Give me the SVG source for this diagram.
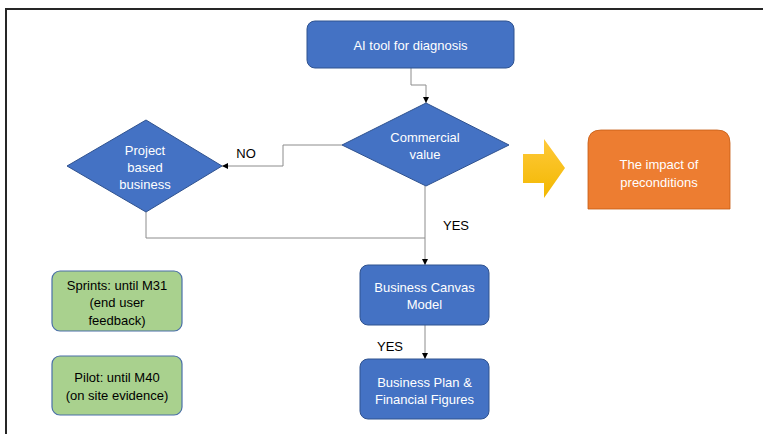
<svg xmlns="http://www.w3.org/2000/svg" width="763" height="434" viewBox="0 0 763 434">
  <defs>
    <style>
      .blue { fill: #4472C4; stroke: #2F528F; stroke-width: 1; }
      .green { fill: #A9D18E; stroke: #4A6FA8; stroke-width: 1.2; }
      .wt { fill: #FFFFFF; font-family: "Liberation Sans", Arial, sans-serif; font-size: 13px; text-anchor: middle; }
      .bt { fill: #000000; font-family: "Liberation Sans", Arial, sans-serif; font-size: 13px; text-anchor: middle; }
      .conn { fill: none; stroke: #8C8C8C; stroke-width: 1; }
    </style>
    <marker id="arrow" viewBox="0 0 6 6" refX="6" refY="3" markerWidth="6" markerHeight="6" orient="auto" markerUnits="userSpaceOnUse">
      <path d="M0,0 L6,3 L0,6 Z" fill="#000000"/>
    </marker>
    <linearGradient id="yellowGrad" x1="0" y1="0" x2="0" y2="1">
      <stop offset="0" stop-color="#FFC93A"/>
      <stop offset="1" stop-color="#F2B800"/>
    </linearGradient>
  </defs>

  <rect x="0" y="0" width="763" height="434" fill="#FFFFFF"/>

  <!-- outer frame -->
  <path d="M6,434 L6,9 L763,9" fill="none" stroke="#262626" stroke-width="2"/>

  <!-- connectors -->
  <g id="connectors">
    <path class="conn" d="M411,68 L411,85 L426,85 L426,103" marker-end="url(#arrow)"/>
    <path class="conn" d="M342,145 L283,145 L283,166 L222,166" marker-end="url(#arrow)"/>
    <path class="conn" d="M146,212 L146,238 L425,238"/>
    <path class="conn" d="M425,186 L425,265" marker-end="url(#arrow)"/>
    <path class="conn" d="M425,325 L425,359" marker-end="url(#arrow)"/>
    <text class="bt" x="246" y="158">NO</text>
    <text class="bt" x="456" y="230">YES</text>
    <text class="bt" x="390" y="350.5">YES</text>
  </g>

  <g id="ai-tool">
    <rect class="blue" x="307" y="21" width="207" height="47" rx="8"/>
    <text class="wt" x="410.5" y="49.5">AI tool for diagnosis</text>
  </g>

  <g id="commercial-value">
    <path class="blue" d="M426,103 L509,145 L426,186 L342,145 Z"/>
    <text class="wt" x="425" y="142">Commercial</text>
    <text class="wt" x="425" y="158.5">value</text>
  </g>

  <g id="project-based">
    <path class="blue" d="M146,120 L222,166 L146,212 L67,166 Z"/>
    <text class="wt" x="145" y="154.5">Project</text>
    <text class="wt" x="145" y="171.5">based</text>
    <text class="wt" x="145" y="188.5">business</text>
  </g>

  <g id="yellow-arrow">
    <path d="M523,154 L544,154 L544,139 L565,168 L544,198 L544,183 L523,183 Z" fill="url(#yellowGrad)"/>
  </g>

  <g id="impact">
    <path d="M588,209 L588,143 Q588,130 601,130 L717,130 Q730,130 730,143 L730,209 Z" fill="#ED7D31" stroke="#C55A11" stroke-width="0.8"/>
    <text class="wt" x="659" y="168.5">The impact of</text>
    <text class="wt" x="659" y="186.5">preconditions</text>
  </g>

  <g id="business-canvas">
    <rect class="blue" x="360" y="265" width="129" height="60" rx="8"/>
    <text class="wt" x="424.5" y="291.5">Business Canvas</text>
    <text class="wt" x="424.5" y="309">Model</text>
  </g>

  <g id="business-plan">
    <rect class="blue" x="360" y="359" width="129" height="60" rx="8"/>
    <text class="wt" x="424.5" y="386.5">Business Plan &amp;</text>
    <text class="wt" x="424.5" y="404">Financial Figures</text>
  </g>

  <g id="sprints">
    <rect class="green" x="52" y="271" width="130" height="60" rx="8"/>
    <text class="bt" x="117" y="289.5">Sprints: until M31</text>
    <text class="bt" x="117" y="307">(end user</text>
    <text class="bt" x="117" y="324.5">feedback)</text>
  </g>

  <g id="pilot">
    <rect class="green" x="52" y="356" width="130" height="59" rx="8"/>
    <text class="bt" x="117" y="382">Pilot: until M40</text>
    <text class="bt" x="117" y="399.5">(on site evidence)</text>
  </g>
</svg>
